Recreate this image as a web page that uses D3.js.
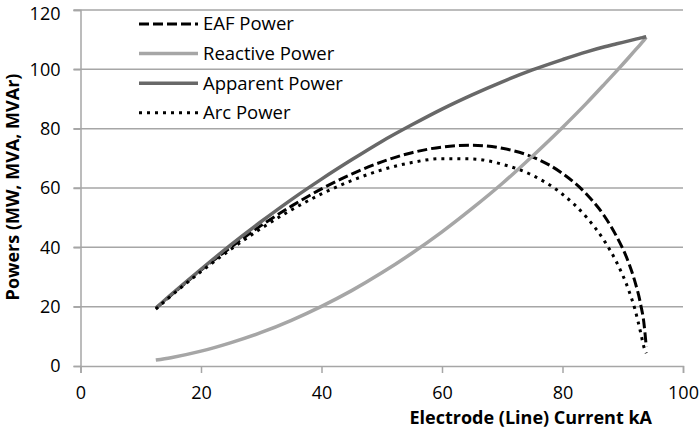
<!DOCTYPE html>
<html>
<head>
<meta charset="utf-8">
<script src="https://cdn.jsdelivr.net/npm/d3@7"></script>
<style>
  body { margin: 0; background: #fff; }
  text { font-family: "Open Sans", sans-serif; }
</style>
</head>
<body>
<div id="viz"></div>
<script>
// electrode current (kA)
const current = [12.5, 15, 20, 25, 30, 35, 40, 45, 50, 55, 60, 65, 70, 75, 80, 84, 87, 89, 91, 92, 93, 93.5, 93.9];

const eafPower      = [19.4, 23.8, 32.3, 40.1, 47.4, 53.9, 59.7, 64.7, 68.8, 71.9, 73.8, 74.4, 73.4, 70.5, 64.9, 57.9, 50.4, 43.6, 34.7, 28.6, 20.5, 14.7, 6.5];
const reactivePower = [2.0, 2.8, 5.0, 7.9, 11.3, 15.4, 20.1, 25.4, 31.4, 38.0, 45.2, 53.1, 61.5, 70.7, 80.4, 88.6, 95.1, 99.5, 104.0, 106.3, 108.6, 109.8, 110.8];
const apparentPower = [19.5, 24.0, 32.6, 40.9, 48.7, 56.1, 63.0, 69.5, 75.7, 81.3, 86.6, 91.4, 95.8, 99.8, 103.3, 105.9, 107.6, 108.6, 109.6, 110.1, 110.6, 110.8, 111.0];
const arcPower      = [19.2, 23.6, 31.8, 39.4, 46.4, 52.6, 58.0, 62.5, 66.1, 68.6, 69.9, 69.8, 68.0, 64.3, 57.9, 50.1, 42.0, 34.9, 25.5, 19.3, 11.0, 6.5, 4.3];

const xTicks = [0, 20, 40, 60, 80, 100];
const yTicks = [0, 20, 40, 60, 80, 100, 120];

const series = [
    { name: "EAF Power",      values: eafPower,      color: "#000000", width: 3,   dash: "10,4" },
    { name: "Reactive Power", values: reactivePower, color: "#a6a6a6", width: 3.5, dash: null },
    { name: "Apparent Power", values: apparentPower, color: "#686868", width: 3.5, dash: null },
    { name: "Arc Power",      values: arcPower,      color: "#000000", width: 3,   dash: "3,5" }
];

const width = 700;
const height = 430;
const margin = { top: 10, right: 17, bottom: 64, left: 80.5 };

const svg = d3.select("#viz").append("svg")
    .attr("width", width)
    .attr("height", height);

const x = d3.scaleLinear().domain([0, 100]).range([margin.left, width - margin.right]);
const y = d3.scaleLinear().domain([0, 120]).range([height - margin.bottom, margin.top]);

// gridlines
svg.append("g")
    .selectAll("line")
    .data(yTicks.filter(d => d > 0))
    .enter()
    .append("line")
    .attr("x1", x(0) - 7)
    .attr("x2", x(100))
    .attr("y1", d => y(d))
    .attr("y2", d => y(d))
    .attr("stroke", "#a6a6a6")
    .attr("stroke-width", 1.5);

// y axis
const yAxis = svg.append("g")
    .attr("transform", `translate(${x(0)},0)`)
    .call(d3.axisLeft(y).tickValues(yTicks).tickSize(7).tickPadding(13));

// x axis
const xAxis = svg.append("g")
    .attr("transform", `translate(0,${y(0)})`)
    .call(d3.axisBottom(x).tickValues(xTicks).tickSize(7).tickPadding(13));

[yAxis, xAxis].forEach(a => {
    a.select(".domain").attr("stroke", "#a6a6a6").attr("stroke-width", 1.5);
    a.selectAll(".tick line").attr("stroke", "#a6a6a6").attr("stroke-width", 1.5);
    a.selectAll(".tick text")
        .attr("fill", "#000")
        .style("font-size", "18px");
});

// keep the top label inside the frame
yAxis.selectAll(".tick text")
    .filter(d => d === 120)
    .attr("dy", "0.52em");

// lines
const line = d3.line()
    .x((d, i) => x(current[i]))
    .y(d => y(d))
    .curve(d3.curveMonotoneX);

svg.append("g")
    .selectAll("path")
    .data(series)
    .enter()
    .append("path")
    .attr("d", d => line(d.values))
    .attr("fill", "none")
    .attr("stroke", d => d.color)
    .attr("stroke-width", d => d.width)
    .attr("stroke-dasharray", d => d.dash);

// legend
const legend = svg.append("g")
    .selectAll("g")
    .data(series)
    .enter()
    .append("g")
    .attr("transform", (d, i) => `translate(139,${24 + i * 29.6})`);

legend.append("line")
    .attr("x1", 0)
    .attr("x2", 59)
    .attr("stroke", d => d.color)
    .attr("stroke-width", d => d.width)
    .attr("stroke-dasharray", d => d.dash);

legend.append("text")
    .attr("x", 64)
    .attr("dy", "0.35em")
    .style("font-size", "18.5px")
    .text(d => d.name);

// axis titles
svg.append("text")
    .attr("x", 652)
    .attr("y", 424)
    .attr("text-anchor", "end")
    .style("font-size", "18px")
    .style("font-weight", "bold")
    .text("Electrode (Line) Current kA");

svg.append("text")
    .attr("transform", `translate(19,187) rotate(-90)`)
    .attr("text-anchor", "middle")
    .style("font-size", "18px")
    .style("font-weight", "bold")
    .text("Powers (MW, MVA, MVAr)");
</script>
</body>
</html>
